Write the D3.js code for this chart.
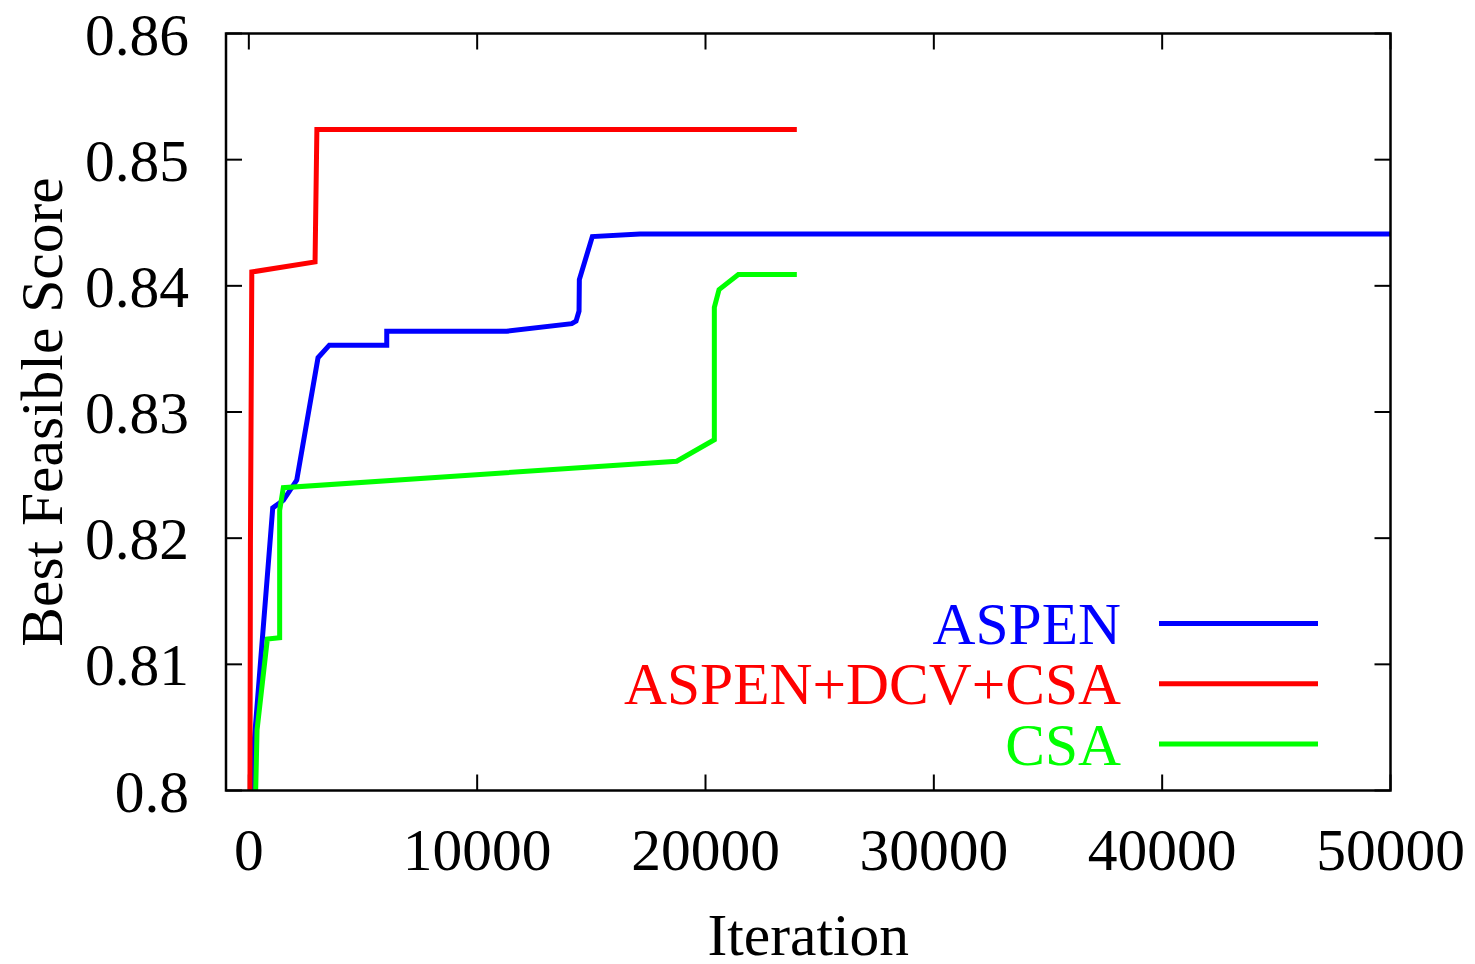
<!DOCTYPE html>
<html><head><meta charset="utf-8">
<script src="https://cdn.jsdelivr.net/npm/d3@7"></script>
<style>body{margin:0;background:#fff}</style>
</head><body>
<svg id="c" width="1475" height="964"></svg>
<script>
const xTicks = [0, 10000, 20000, 30000, 40000, 50000];
const yTicks = [0.80, 0.81, 0.82, 0.83, 0.84, 0.85, 0.86];
const seriesNames = ["ASPEN", "ASPEN+DCV+CSA", "CSA"];
const seriesColors = ["#0000ff", "#ff0000", "#00ff00"];

const aspenIter  = [184, 184, 1047, 1511, 2098, 3030, 3526, 6040, 6040, 11295, 14142, 14330, 14462, 14475, 15044, 17133, 50000];
const aspenScore = [0.8000, 0.8027, 0.8224, 0.8230, 0.8246, 0.8343, 0.8353, 0.8353, 0.8364, 0.8364, 0.8370, 0.8372, 0.8380, 0.8405, 0.8439, 0.8441, 0.8441];

const dcvIter  = [50, 70, 130, 2900, 2980, 24000];
const dcvScore = [0.8000, 0.8195, 0.8411, 0.8419, 0.8524, 0.8524];

const csaIter  = [300, 360, 810, 1350, 1350, 1511, 18741, 20387, 20387, 20593, 21438, 24000];
const csaScore = [0.8000, 0.8048, 0.8120, 0.8121, 0.8222, 0.8240, 0.8261, 0.8278, 0.8383, 0.8397, 0.8409, 0.8409];

const svg = d3.select("#c");
const L = 226, R = 1390.5, T = 33.5, B = 790.5;
const x = d3.scaleLinear().domain([-1000, 50000]).range([L, R]);
const y = d3.scaleLinear().domain([0.80, 0.86]).range([B, T]);
const font = "'Liberation Serif','Times New Roman',serif";
const fs = 59.5, tickLen = 16;

svg.append("defs").append("clipPath").attr("id", "clip")
  .append("rect").attr("x", L).attr("y", T).attr("width", R - L).attr("height", B - T);

// ticks (inward, mirrored)
const tg = svg.append("g").attr("stroke", "#000").attr("stroke-width", 2);
yTicks.forEach(v => {
  tg.append("line").attr("x1", L).attr("x2", L + tickLen).attr("y1", y(v)).attr("y2", y(v));
  tg.append("line").attr("x1", R).attr("x2", R - tickLen).attr("y1", y(v)).attr("y2", y(v));
});
xTicks.forEach(v => {
  tg.append("line").attr("x1", x(v)).attr("x2", x(v)).attr("y1", B).attr("y2", B - tickLen);
  tg.append("line").attr("x1", x(v)).attr("x2", x(v)).attr("y1", T).attr("y2", T + tickLen);
});

// tick labels
svg.append("g").selectAll("text").data(yTicks).join("text")
  .attr("x", 189).attr("y", d => y(d) + 21)
  .attr("text-anchor", "end").attr("font-family", font).attr("font-size", fs)
  .text(d => d3.format(".2~f")(d));
svg.append("g").selectAll("text").data(xTicks).join("text")
  .attr("x", d => x(d)).attr("y", 870)
  .attr("text-anchor", "middle").attr("font-family", font).attr("font-size", fs)
  .text(d => d);

// axis titles
svg.append("text").attr("x", (L + R) / 2).attr("y", 955)
  .attr("text-anchor", "middle").attr("font-family", font).attr("font-size", fs)
  .text("Iteration");
svg.append("text").attr("transform", `translate(62,${(T + B) / 2}) rotate(-90)`)
  .attr("text-anchor", "middle").attr("font-family", font).attr("font-size", fs)
  .text("Best Feasible Score");

// lines
const series = [
  {iter: aspenIter, score: aspenScore},
  {iter: dcvIter, score: dcvScore},
  {iter: csaIter, score: csaScore}
];
const line = d3.line().x(d => x(d[0])).y(d => y(d[1]));
const lg = svg.append("g").attr("clip-path", "url(#clip)");
series.forEach((s, i) => {
  const pts = s.iter.map((v, j) => [v, s.score[j]]);
  lg.append("path").attr("d", line(pts)).attr("fill", "none")
    .attr("stroke", seriesColors[i]).attr("stroke-width", 5).attr("stroke-linejoin", "miter");
});

// frame
svg.append("rect").attr("x", L).attr("y", T).attr("width", R - L).attr("height", B - T)
  .attr("fill", "none").attr("stroke", "#000").attr("stroke-width", 2.5);

// legend
const leg = svg.append("g");
seriesNames.forEach((n, i) => {
  const yy = 623.5 + i * 60.3;
  leg.append("text").attr("x", 1121).attr("y", yy + 20.5)
    .attr("text-anchor", "end").attr("font-family", font).attr("font-size", fs)
    .attr("fill", seriesColors[i]).text(n);
  leg.append("line").attr("x1", 1159).attr("x2", 1318).attr("y1", yy).attr("y2", yy)
    .attr("stroke", seriesColors[i]).attr("stroke-width", 5);
});
</script>
</body></html>
